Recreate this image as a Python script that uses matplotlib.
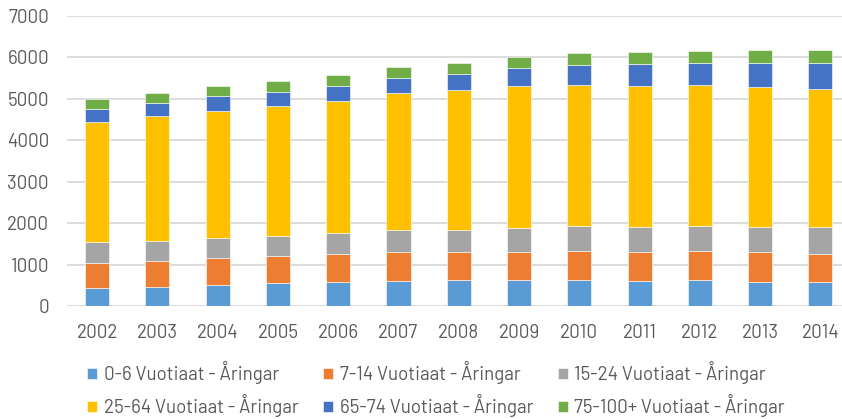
import matplotlib.pyplot as plt
import numpy as np

plt.rcParams['font.family'] = ['Barlow', 'DejaVu Sans']

# vuodet
years = ['2002', '2003', '2004', '2005', '2006', '2007', '2008',
         '2009', '2010', '2011', '2012', '2013', '2014']

# ikäryhmät (kappaletta)
age_0_6 = [440, 465, 505, 545, 570, 610, 620, 635, 620, 600, 620, 570, 570]
age_7_14 = [605, 625, 650, 665, 690, 685, 675, 680, 715, 710, 700, 740, 690]
age_15_24 = [505, 490, 490, 485, 505, 530, 545, 570, 585, 595, 600, 595, 635]
age_25_64 = [2890, 2995, 3070, 3130, 3175, 3320, 3365, 3430, 3420, 3415, 3415, 3375, 3340]
age_65_74 = [305, 320, 355, 335, 370, 360, 385, 435, 480, 530, 540, 595, 635]
age_75_100 = [245, 250, 235, 260, 265, 275, 265, 265, 275, 290, 290, 305, 320]

labels = ['0-6 Vuotiaat - Åringar', '7-14 Vuotiaat - Åringar',
          '15-24 Vuotiaat - Åringar', '25-64 Vuotiaat - Åringar',
          '65-74 Vuotiaat - Åringar', '75-100+ Vuotiaat - Åringar']
colors = ['#5B9BD5', '#ED7D31', '#A5A5A5', '#FFC000', '#4472C4', '#70AD47']

series = [age_0_6, age_7_14, age_15_24, age_25_64, age_65_74, age_75_100]

fig = plt.figure(figsize=(8.42, 4.19), dpi=100)
ax = fig.add_axes([67 / 842, 1 - 306 / 419, (842 - 67) / 842, 290 / 419])

x = np.arange(len(years))
bottom = np.zeros(len(years))
bars = []
for vals, lab, col in zip(series, labels, colors):
    b = ax.bar(x, vals, width=0.4, bottom=bottom, color=col, label=lab,
               edgecolor='white', linewidth=0.4)
    bars.append(b)
    bottom += np.array(vals)

ax.set_xlim(-0.5, -0.5 + 775 / 60.27)
ax.set_ylim(0, 7000)
ax.set_yticks(range(0, 7001, 1000))
ax.set_xticks(x)
ax.set_xticklabels(years)
ax.yaxis.grid(True, color='#D9D9D9', linewidth=1.3)
ax.set_axisbelow(True)
for s in ax.spines.values():
    s.set_visible(False)
ax.tick_params(length=0, labelsize=13.5, colors='#595959', pad=13)
ax.tick_params(axis='y', pad=13)

# järjestys niin, että rivit menevät vasemmalta oikealle
order = [0, 3, 1, 4, 2, 5]
fig.legend([bars[i] for i in order], [labels[i] for i in order],
           ncol=3, loc='lower left', bbox_to_anchor=(70 / 842, -0.036),
           frameon=False, fontsize=13.5, handlelength=0.55, handleheight=0.55,
           handletextpad=0.35, columnspacing=1.3, labelspacing=0.55,
           labelcolor='#595959')

fig.savefig('out.png', dpi=100)
